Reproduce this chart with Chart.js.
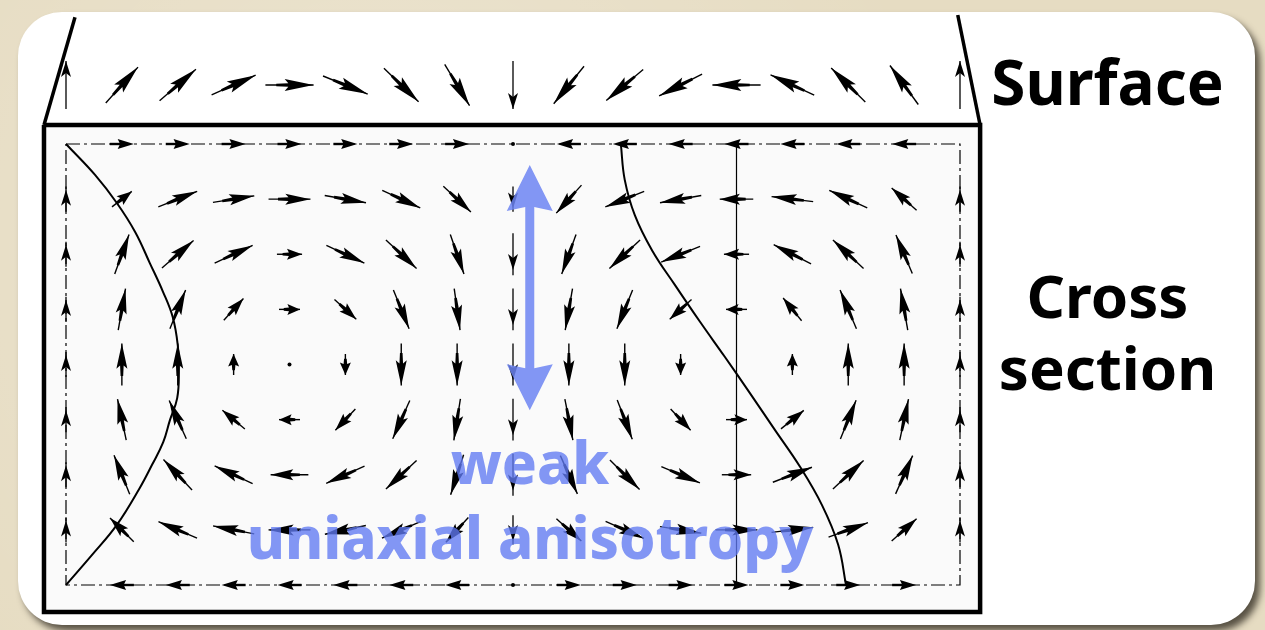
<!DOCTYPE html>
<html>
<head>
<meta charset="utf-8">
<script src="https://cdn.jsdelivr.net/npm/chart.js@4.4.1/dist/chart.umd.min.js"></script>
<style>
  html, body { margin: 0; padding: 0; }
  body {
    width: 1265px; height: 630px; overflow: hidden; position: relative;
    background: #e6dcc2;
    background-image: radial-gradient(circle at 30% 40%, rgba(255,255,255,0.25), rgba(0,0,0,0) 60%);
  }
  .card {
    position: absolute; left: 18px; top: 12px; width: 1237px; height: 613px;
    background: #fff; border-radius: 44px;
    box-shadow: 5px 6px 7px rgba(40,35,25,0.75);
  }
  .wrap { position: absolute; left: 0; top: 0; width: 1265px; height: 630px; }
  .lbl {
    position: absolute; font-family: "Noto Sans", "DejaVu Sans", sans-serif; font-weight: 700;
    line-height: 1; white-space: nowrap; text-align: center;
  }
  .black { color: #000; font-size: 60px; }
  .blue { color: rgba(96,122,242,0.78); font-size: 58px; font-weight: 800; }
</style>
</head>
<body>
<div class="card"></div>
<div class="wrap"><canvas id="chart"></canvas></div>
<div class="lbl black" style="left:985px; top:50px; width:245px; font-size:62px;">Surface</div>
<div class="lbl black" style="left:985px; top:265px; width:245px;">Cross</div>
<div class="lbl black" style="left:985px; top:337px; width:245px;">section</div>
<div class="lbl blue" style="left:330px; top:433px; width:400px;">weak</div>
<div class="lbl blue" style="left:180px; top:508px; width:700px;">uniaxial anisotropy</div>
<script>
// grid: columns 0..16 across, rows 0..8 down through the cross section
const columns = [0, 1, 2, 3, 4, 5, 6, 7, 8, 9, 10, 11, 12, 13, 14, 15, 16];
const surfaceRow = -1.07;

// arrow directions in degrees (0 = right, 90 = up)
const surfaceAngles = [90, 48, 41, 24, 0, -22, -44, -59, -90, -129, -140, -153, 180, 155, 135, 126, 90];

const crossAngles = [
  [null, 0, 0, 0, 0, 0, 0, 0, 0, 180, 180, 180, 180, 180, 180, 180, null],
  [90, 38, 22, 9, 0, -10, -25, -43, -90, -132, -158, -170, 180, 173, 155, 138, 90],
  [90, 70, 41, 25, 0, -25, -43, -71, -90, -110, -137, -158, 180, 153, 137, 113, 90],
  [90, 80, 68, 48, 0, -42, -68, -82, -90, -100, -112, -138, 180, 129, 113, 100, 90],
  [90, 90, 90, 90, 0, -90, -90, -90, -90, -90, -90, -90, null, 90, 90, 90, 90],
  [90, 102, 114, 140, 180, -133, -114, -99, -90, -79, -69, -47, 0, 39, 68, 78, 90],
  [90, 112, 133, 155, 180, -156, -137, -108, -90, -66, -45, -23, 0, 21, 43, 66, 90],
  [90, 135, 157, 169, 180, -168, -157, -132, -90, -42, -24, -9, 0, 7, 20, 42, 90],
  [null, 180, 180, 180, 180, 180, 180, 180, 0, 0, 0, 0, 0, 0, 0, 0, null]
];

// in-plane length of each arrow (0 = dot)
const crossMags = [
  [0, .55, .55, .55, .55, .55, .55, .55, 0, .55, .55, .55, .55, .55, .55, .55, 0],
  [.6, .6, 1, 1, 1, 1, 1, .9, .6, .9, 1, 1, .8, 1, 1, .8, .6],
  [.6, 1, 1, 1, .6, 1, 1, 1, 1, 1, 1, 1, .6, 1, 1, 1, .6],
  [.6, 1, 1, .7, .5, .7, 1, 1, 1, 1, 1, .7, .5, .7, 1, 1, .6],
  [.6, 1, 1, .5, 0, .5, 1, 1, 1, 1, 1, .5, 0, .5, 1, 1, .6],
  [.6, 1, 1, .7, .5, .7, 1, 1, 1, 1, 1, .7, .5, .7, 1, 1, .6],
  [.6, 1, 1, 1, .9, 1, 1, 1, 1, 1, 1, 1, .7, 1, 1, 1, .6],
  [.6, .8, 1, 1, 1, 1, 1, .8, .7, .8, 1, 1, 1, 1, 1, .8, .6],
  [0, .55, .55, .55, .55, .55, .55, .55, 0, .55, .55, .55, .55, .55, .55, .55, 0]
];

// domain wall lines
const leftWallX = [0, 0.52, 0.91, 1.24, 1.50, 1.74, 1.91, 2.00, 2.02, 1.99, 1.86, 1.74, 1.54, 1.32, 0.91, 0.47, 0];
const leftWallY = [0, 0.56, 1.07, 1.60, 2.16, 2.69, 3.14, 3.65, 4.14, 4.61, 5.01, 5.41, 5.82, 6.24, 6.91, 7.45, 8];
const rightWallX = [9.93, 10.00, 10.18, 10.49, 10.90, 11.35, 11.79, 12.24, 12.69, 13.14, 13.53, 13.82, 13.96];
const rightWallY = [0, 0.65, 1.29, 1.93, 2.56, 3.23, 3.86, 4.52, 5.19, 5.86, 6.55, 7.27, 8];

// frame outlines
const innerFrameX = [0, 16, 16, 0, 0];
const innerFrameY = [0, 0, 8, 8, 0];
const outerBoxX = [-0.394, 16.36, 16.36, -0.394, -0.394];
const outerBoxY = [-0.345, -0.345, 8.49, 8.49, -0.345];
const surfLeftX = [-0.394, 0.161];
const surfLeftY = [-0.345, -2.3];
const surfRightX = [16.36, 15.96];
const surfRightY = [-0.345, -2.34];
const dividerX = [12, 12];
const dividerY = [0, 8];

// blue double arrow (easy axis)
const easyAxisX = 8.30;
const easyAxisY = [0.38, 4.83];

const zip = (xs, ys) => xs.map((x, i) => ({ x, y: ys[i] }));

const arrowPoints = [];
surfaceAngles.forEach((a, c) => {
  arrowPoints.push({ x: columns[c], y: surfaceRow, a, m: 1.15, thin: c % 8 === 0 });
});
crossAngles.forEach((row, r) => {
  row.forEach((a, c) => {
    if (a === null) return;
    const edge = r === 0 || r === 8;
    arrowPoints.push({ x: columns[c], y: r, a, m: crossMags[r][c], thin: !edge && (c === 0 || c === 8 || c === 16), edge });
  });
});

function lineSet(xs, ys, width, extra) {
  return Object.assign({
    data: zip(xs, ys), showLine: true, borderColor: '#000', borderWidth: width,
    pointRadius: 0, fill: false, tension: 0
  }, extra || {});
}

function drawArrow(ctx, x, y, deg, len, p) {
  ctx.save();
  ctx.translate(x, y);
  ctx.rotate(-deg * Math.PI / 180);
  const h = len / 2;
  ctx.fillStyle = '#000';
  ctx.strokeStyle = '#000';
  if (p.edge) {
    ctx.beginPath();
    ctx.moveTo(h, 0);
    ctx.lineTo(-h * 0.35, 5);
    ctx.lineTo(-h * 0.15, 0);
    ctx.lineTo(-h * 0.35, -5);
    ctx.closePath();
    ctx.fill();
    ctx.fillRect(-h, -1.2, h, 2.4);
  } else if (p.thin) {
    ctx.lineWidth = 1.3;
    ctx.beginPath(); ctx.moveTo(-h, 0); ctx.lineTo(h, 0); ctx.stroke();
    const tip = p.y < 0 ? h : h * 0.75;
    ctx.beginPath();
    ctx.moveTo(tip, 0);
    ctx.lineTo(tip - 16, 5);
    ctx.lineTo(tip - 12, 0);
    ctx.lineTo(tip - 16, -5);
    ctx.closePath();
    ctx.fill();
  } else {
    const w = p.y < 0 ? 6 : 5.5;
    ctx.lineWidth = 1.4;
    ctx.beginPath(); ctx.moveTo(-h, 0); ctx.lineTo(h, 0); ctx.stroke();
    ctx.beginPath();
    ctx.moveTo(h, 0);
    ctx.lineTo(-h * 0.2, w);
    ctx.lineTo(-h * 0.05, 1.8);
    ctx.lineTo(-h * 0.55, 1.3);
    ctx.lineTo(-h * 0.55, -1.3);
    ctx.lineTo(-h * 0.05, -1.8);
    ctx.lineTo(-h * 0.2, -w);
    ctx.closePath();
    ctx.fill();
  }
  ctx.restore();
}

const fieldPlugin = {
  id: 'field',
  beforeDatasetsDraw(chart) {
    const { ctx, scales: { x, y } } = chart;
    ctx.save();
    ctx.fillStyle = '#fafafa';
    const x0 = x.getPixelForValue(outerBoxX[0]), x1 = x.getPixelForValue(outerBoxX[1]);
    ctx.fillRect(x0, y.getPixelForValue(outerBoxY[0]), x1 - x0, y.getPixelForValue(outerBoxY[2]) - y.getPixelForValue(outerBoxY[0]));
    ctx.restore();
  },
  afterDatasetsDraw(chart) {
    const { ctx, scales: { x, y } } = chart;
    const meta = chart.getDatasetMeta(chart.data.datasets.length - 1);
    const unit = x.getPixelForValue(1) - x.getPixelForValue(0);
    meta.data.forEach((el, i) => {
      const p = chart.data.datasets[chart.data.datasets.length - 1].data[i];
      if (p.m === 0) {
        ctx.beginPath(); ctx.arc(el.x, el.y, 2, 0, Math.PI * 2); ctx.fillStyle = '#000'; ctx.fill();
        return;
      }
      const len = p.edge ? 24 : p.m * unit * 0.75;
      drawArrow(ctx, el.x, el.y, p.a, len, p);
    });

    // easy-axis double arrow
    const ax = x.getPixelForValue(easyAxisX);
    const top = y.getPixelForValue(easyAxisY[0]);
    const bot = y.getPixelForValue(easyAxisY[1]);
    const hl = 46, hw = 23, sw = 4.5;
    ctx.save();
    ctx.fillStyle = 'rgba(108,132,242,0.85)';
    ctx.beginPath();
    ctx.moveTo(ax, top);
    ctx.lineTo(ax + hw, top + hl);
    ctx.lineTo(ax + sw, top + hl - 4);
    ctx.lineTo(ax + sw, bot - hl + 4);
    ctx.lineTo(ax + hw, bot - hl);
    ctx.lineTo(ax, bot);
    ctx.lineTo(ax - hw, bot - hl);
    ctx.lineTo(ax - sw, bot - hl + 4);
    ctx.lineTo(ax - sw, top + hl - 4);
    ctx.lineTo(ax - hw, top + hl);
    ctx.closePath();
    ctx.fill();
    ctx.restore();
  }
};

new Chart(document.getElementById('chart'), {
  type: 'scatter',
  data: {
    datasets: [
      lineSet(leftWallX, leftWallY, 2, { tension: 0.4 }),
      lineSet(rightWallX, rightWallY, 2, { tension: 0.4 }),
      lineSet(dividerX, dividerY, 1.2),
      lineSet(innerFrameX, innerFrameY, 1.2, { borderDash: [14, 4, 3, 4] }),
      lineSet(outerBoxX, outerBoxY, 4.5),
      lineSet(surfLeftX, surfLeftY, 3.5),
      lineSet(surfRightX, surfRightY, 3.5),
      { data: arrowPoints, pointRadius: 0, pointHoverRadius: 0 }
    ]
  },
  options: {
    responsive: true,
    maintainAspectRatio: false,
    animation: false,
    events: [],
    layout: { padding: 0 },
    plugins: { legend: { display: false }, tooltip: { enabled: false }, title: { display: false } },
    scales: {
      x: { type: 'linear', display: false, min: -66 / 55.875, max: (1265 - 66) / 55.875 },
      y: { type: 'linear', display: false, reverse: true, min: -144 / 55.125, max: (630 - 144) / 55.125 }
    }
  },
  plugins: [fieldPlugin]
});
</script>
</body>
</html>
